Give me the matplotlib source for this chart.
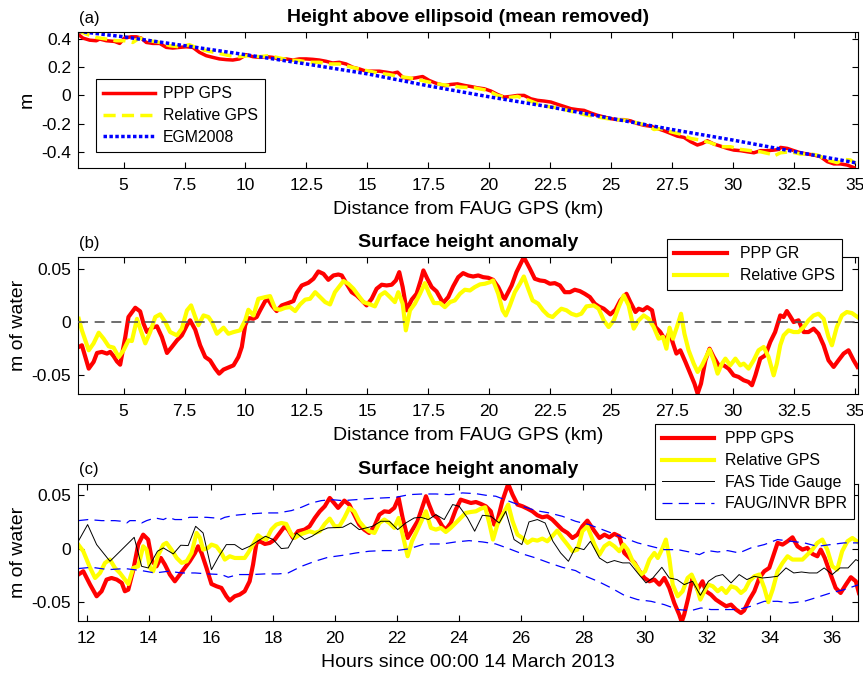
import matplotlib
matplotlib.use("Agg")
import matplotlib.pyplot as plt

plt.rcParams['font.family'] = ['Liberation Sans', 'DejaVu Sans']
plt.rcParams['axes.unicode_minus'] = False

# ---------------- Panel (a): height above ellipsoid (m) vs distance (km)
ppp_a = [(3.13,0.435),(3.33,0.407),(3.61,0.392),(3.88,0.388),(4.02,0.400),(4.29,0.388),(4.63,0.383),(4.84,0.369),(5.04,0.407),(5.31,0.416),
         (5.52,0.416),(5.72,0.407),(5.93,0.376),(6.20,0.369),(6.48,0.369),(6.75,0.341),(7.02,0.336),(7.30,0.341),(7.57,0.345),(7.84,0.341),
         (8.11,0.306),(8.39,0.282),(8.66,0.270),(8.93,0.259),(9.21,0.254),(9.48,0.251),(9.75,0.259),(10.03,0.289),(10.30,0.275),(10.57,0.270),
         (10.85,0.275),(11.12,0.270),(11.39,0.259),(11.67,0.259),(11.94,0.251),(12.21,0.259),(12.49,0.259),(12.76,0.256),(13.03,0.251),(13.31,0.242),
         (13.58,0.230),(13.85,0.235),(14.13,0.223),(14.40,0.200),(14.67,0.188),(14.95,0.172),(15.22,0.172),(15.49,0.172),(15.77,0.165),(16.04,0.157),
         (16.24,0.165),(16.45,0.129),(16.72,0.118),(16.99,0.125),(17.27,0.134),(17.54,0.106),(17.81,0.087),(18.16,0.070),
         (18.43,0.078),(18.70,0.082),(18.98,0.071),(19.25,0.063),(19.52,0.054),(19.80,0.047),(20.07,0.031),(20.34,0.007),(20.61,-0.012),(20.89,-0.007),
         (21.16,0.000),(21.43,0.000),(21.71,-0.024),(21.98,-0.035),(22.25,-0.040),(22.53,-0.047),(22.80,-0.063),(23.07,-0.078),(23.35,-0.094),(23.62,-0.101),
         (23.89,-0.106),(24.17,-0.125),(24.44,-0.141),(24.71,-0.153),(24.99,-0.165),(25.26,-0.172),(25.53,-0.172),(25.81,-0.181),(26.08,-0.200),(26.35,-0.212),
         (26.63,-0.219),(26.90,-0.235),(27.17,-0.251),(27.45,-0.270),(27.72,-0.289),(27.99,-0.298),(28.27,-0.329),(28.54,-0.352),(28.74,-0.341),(28.95,-0.322),
         (29.22,-0.345),(29.49,-0.360),(29.77,-0.376),(30.04,-0.388),(30.31,-0.392),(30.59,-0.400),(30.86,-0.407),(31.13,-0.392),(31.41,-0.392),(31.68,-0.388),
         (31.89,-0.383),(31.95,-0.369),(32.23,-0.376),(32.50,-0.392),(32.77,-0.407),(33.05,-0.416),(33.32,-0.423),(33.59,-0.435),(33.87,-0.470),(34.14,-0.486),
         (34.41,-0.486),(34.69,-0.494),(34.96,-0.512)]

rel_a = [(3.13,0.458),(3.47,0.435),(3.88,0.411),(4.29,0.400),(4.70,0.388),(5.04,0.388),(5.38,0.376),(5.66,0.407),(6.07,0.388),(6.48,0.376),
         (6.89,0.353),(7.30,0.345),(7.70,0.360),(8.11,0.329),(8.52,0.313),(8.93,0.298),(9.34,0.282),(9.75,0.275),(10.16,0.282),(10.57,0.275),
         (10.98,0.282),(11.39,0.266),(11.80,0.251),(12.21,0.247),(12.62,0.235),(13.03,0.235),(13.44,0.223),(13.85,0.223),(14.26,0.204),(14.67,0.188),
         (15.08,0.172),(15.49,0.157),(15.90,0.148),(16.31,0.134),(16.72,0.125),(17.13,0.110),(17.54,0.094),(17.95,0.080),(18.29,0.071),(18.84,0.059),
         (19.39,0.054),(19.93,0.035),(20.34,0.000),(20.75,-0.016),(21.16,-0.007),(21.57,-0.031),(21.98,-0.059),(22.39,-0.078),(22.80,-0.087),(23.21,-0.106),
         (23.62,-0.125),(24.03,-0.141),(24.44,-0.153),(24.85,-0.165),(25.26,-0.172),(25.67,-0.176),(26.08,-0.195),(26.49,-0.212),(26.76,-0.242),(27.04,-0.235),
         (27.45,-0.258),(27.86,-0.275),(28.27,-0.306),(28.68,-0.317),(29.09,-0.336),(29.49,-0.364),(29.90,-0.364),(30.31,-0.383),(30.72,-0.392),(31.13,-0.400),
         (31.54,-0.416),(31.68,-0.430),(31.95,-0.407),(32.36,-0.400),(32.77,-0.416),(33.18,-0.416),(33.46,-0.423),(33.87,-0.458),(34.28,-0.477),(34.55,-0.454),
         (34.82,-0.458),(35.03,-0.482)]

egm_a = [(3.13,0.455),(5.0,0.416),(7.5,0.353),(10.0,0.289),(12.5,0.223),(15.0,0.153),(17.5,0.068),(20.0,-0.010),
         (22.5,-0.082),(25.0,-0.163),(27.5,-0.242),(30.0,-0.317),(32.5,-0.398),(35.1,-0.480)]

# ---------------- Panel (b): surface height anomaly (m of water) vs distance (km)
ppp_b = [(3.16,-0.0234),(3.29,-0.0218),(3.57,-0.0437),(3.77,-0.0374),(3.91,-0.029),(4.11,-0.028),(4.32,-0.0296),(4.45,-0.028),(4.59,-0.032),(4.73,-0.037),
         (4.86,-0.040),(5.07,-0.014),(5.2,0.0047),(5.48,0.0134),(5.68,0.010),(5.82,-0.0016),(5.96,-0.0094),(6.16,-0.0053),(6.37,-0.004),(6.57,-0.014),
         (6.78,-0.029),(6.98,-0.0234),(7.19,-0.0172),(7.39,-0.0125),(7.6,-0.003),(7.73,0.0016),(7.94,-0.0072),(8.14,-0.0218),(8.35,-0.0328),(8.55,-0.036),
         (8.76,-0.0437),(8.92,-0.0484),(9.1,-0.0446),(9.3,-0.0427),(9.51,-0.0406),(9.71,-0.0328),(9.85,-0.0234),(9.99,-0.003),(10.12,0.0037),(10.33,0.0031),
         (10.46,0.0047),(10.6,0.0109),(10.81,0.0197),(10.94,0.021),(11.08,0.0156),(11.28,0.0103),(11.49,0.0156),(11.76,0.0178),(11.97,0.0197),(12.1,0.0271),
         (12.31,0.0343),(12.58,0.0368),(12.79,0.0406),(12.99,0.0474),(13.2,0.0452),(13.4,0.0396),(13.61,0.0437),(13.81,0.0446),
         (13.95,0.0437),(14.15,0.0359),(14.36,0.028),(14.56,0.025),(14.77,0.0203),(14.97,0.0156),(15.18,0.0218),(15.38,0.0312),(15.59,0.035),(15.79,0.0343),
         (16.0,0.035),(16.17,0.039),(16.31,0.0468),(16.45,0.0328),(16.61,0.011),(16.82,0.021),(17.02,0.0265),(17.19,0.039),(17.3,0.0484),(17.46,0.0406),
         (17.64,0.0328),(17.84,0.0287),(18.11,0.0178),(18.32,0.0234),(18.52,0.0334),(18.73,0.0421),(18.93,0.0459),(19.14,0.0437),(19.34,0.0427),(19.55,0.0437),
         (19.75,0.0421),(19.96,0.0415),(20.16,0.0396),(20.37,0.0328),(20.57,0.0234),(20.64,0.0218),(20.92,0.0343),(21.12,0.0468),(21.42,0.0608),(21.67,0.050),
         (21.87,0.0406),(22.08,0.039),(22.28,0.0384),(22.49,0.0359),(22.69,0.0365),(22.9,0.0343),(23.1,0.028),(23.31,0.028),(23.51,0.0303),(23.72,0.029),
         (23.92,0.0265),(24.13,0.0234),(24.33,0.0172),
         (24.49,0.0147),(24.7,0.0125),(24.97,0.0072),(25.18,0.0115),(25.38,0.0203),(25.63,0.0265),(25.79,0.0187),(26.0,0.0094),(26.13,0.0125),(26.31,0.011),
         (26.48,0.014),(26.68,0.011),(26.82,-0.0047),(27.02,-0.0094),(27.23,-0.0172),(27.4,-0.0094),(27.54,-0.020),(27.68,-0.0296),(27.84,-0.0265),(28.05,-0.0374),
         (28.25,-0.0484),(28.42,-0.0577),(28.55,-0.0671),(28.69,-0.0577),(28.87,-0.0359),(29.04,-0.025),(29.21,-0.0328),(29.41,-0.0406),(29.62,-0.0406),(29.82,-0.0437),
         (30.03,-0.050),(30.23,-0.0515),(30.44,-0.0546),(30.64,-0.0562),(30.78,-0.0593),(30.92,-0.050),(31.12,-0.0343),(31.33,-0.0312),(31.53,-0.0187),(31.73,-0.0094),
         (31.94,0.0062),(32.08,0.0047),(32.21,0.0103),(32.35,0.0053),(32.49,0.0),(32.69,0.0016),(32.9,-0.0094),(33.1,-0.0094),(33.31,-0.0062),(33.51,-0.011),
         (33.72,-0.0218),(33.92,-0.0359),(34.13,-0.0421),(34.33,-0.0359),(34.54,-0.0296),(34.74,-0.0265),(34.95,-0.0359),(35.11,-0.0421)]

rel_b = [(3.16,0.003),(3.29,-0.0078),(3.57,-0.0265),(3.77,-0.020),(3.98,-0.010),(4.18,-0.0156),(4.39,-0.0228),(4.59,-0.024),(4.8,-0.0328),(5.0,-0.0265),
         (5.2,-0.0172),(5.34,-0.0178),(5.55,0.003),(5.68,-0.0062),(5.89,-0.020),(6.09,-0.0094),(6.3,0.0047),(6.5,0.0072),(6.71,0.0),(6.91,-0.0094),
         (7.19,-0.0125),(7.39,-0.0062),(7.6,0.0109),(7.77,0.0156),(7.94,0.0047),(8.07,-0.003),(8.28,0.0062),(8.48,0.0047),(8.62,0.0),(8.83,-0.011),
         (9.1,-0.0053),(9.3,-0.011),(9.51,-0.0094),(9.78,-0.0078),(9.99,0.0016),(10.12,0.0115),(10.33,0.0062),(10.53,0.0218),(10.81,0.0234),(11.01,0.0243),
         (11.22,0.0125),(11.42,0.0115),(11.63,0.0134),(11.83,0.014),(12.04,0.0103),(12.24,0.0165),(12.45,0.021),(12.65,0.0218),(12.86,0.028),(13.06,0.0234),
         (13.27,0.0187),(13.47,0.0165),
         (13.67,0.028),(14.02,0.0384),(14.22,0.0359),(14.43,0.0312),(14.63,0.025),(14.84,0.0187),(15.04,0.0172),(15.31,0.0147),(15.52,0.025),(15.72,0.028),
         (15.93,0.0234),(16.13,0.0187),(16.27,0.028),(16.45,0.0172),(16.58,-0.0078),(16.75,0.011),(16.95,0.0172),(17.16,0.0265),(17.36,0.0365),(17.54,0.0265),
         (17.73,0.0178),(17.98,0.0178),(18.18,0.014),(18.39,0.0187),(18.59,0.0203),(18.8,0.0265),(19.0,0.0303),(19.21,0.0296),(19.41,0.0328),(19.62,0.0353),
         (19.82,0.0359),(20.03,0.0374),(20.16,0.039),(20.37,0.0265),(20.55,0.011),(20.68,0.0062),(20.85,0.0156),(21.05,0.028),(21.26,0.0359),(21.42,0.0427),
         (21.6,0.0312),(21.78,0.0203),(22.01,0.0172),(22.21,0.011),(22.42,0.0062),(22.6,0.0047),(22.76,0.0084),(22.96,0.0125),(23.17,0.011),(23.37,0.0078),
         (23.58,0.0062),(23.78,0.0078),(23.99,0.0147),
         (24.29,0.0156),(24.49,0.0125),(24.7,0.0016),(24.9,-0.0047),(25.11,0.0016),(25.31,0.014),(25.52,0.025),(25.72,0.0156),(25.93,-0.0062),(26.13,0.0016),
         (26.34,0.0062),(26.54,0.0031),(26.75,-0.0047),(26.95,-0.0156),(27.13,-0.014),(27.27,-0.025),(27.4,-0.0053),(27.54,-0.0156),(27.7,-0.0047),(27.87,0.0078),
         (28.01,-0.011),(28.18,-0.0265),(28.39,-0.039),(28.55,-0.0468),(28.73,-0.0406),(28.91,-0.032),(29.04,-0.0259),(29.21,-0.0359),(29.37,-0.0484),(29.55,-0.039),
         (29.69,-0.0343),(29.89,-0.0406),(30.1,-0.0343),(30.3,-0.0406),(30.44,-0.039),(30.64,-0.0437),(30.85,-0.0359),(31.05,-0.0265),(31.26,-0.0234),(31.46,-0.0328),
         (31.67,-0.050),(31.8,-0.039),(31.94,-0.0218),(32.08,-0.0125),(32.28,-0.0078),(32.49,-0.0094),(32.69,-0.0094),(32.9,-0.0047),(33.1,0.0016),(33.31,0.0062),
         (33.51,0.0078),(33.72,0.003),(33.92,-0.014),(34.06,-0.0218),(34.26,-0.0047),(34.47,0.0062),(34.67,0.0094),(34.88,0.0084),(35.11,0.0047)]

# ---------------- Panel (c): surface height anomaly (m of water) vs hours since 00:00 14 March 2013
ppp_c = [(11.73,-0.0241),(11.89,-0.021),(12.11,-0.0335),(12.32,-0.0444),(12.48,-0.0397),(12.64,-0.0288),(12.80,-0.0273),(12.97,-0.0288),(13.13,-0.0319),(13.23,-0.0397),
         (13.34,-0.0382),(13.50,-0.020),(13.66,0.004),(13.82,0.0132),(13.98,0.0086),(14.11,-0.0117),(14.25,-0.0164),(14.39,-0.0086),(14.52,-0.0148),(14.68,-0.0241),
         (14.84,-0.0304),(15.00,-0.0241),(15.16,-0.0179),(15.32,-0.0117),(15.49,-0.0039),(15.59,0.0023),(15.70,-0.0039),(15.86,-0.0179),(16.02,-0.0329),(16.18,-0.035),
         (16.34,-0.0366),(16.50,-0.0444),(16.61,-0.0484),(16.77,-0.0444),(16.93,-0.0428),(17.09,-0.0397),(17.25,-0.0304),(17.36,-0.0148),(17.47,0.0055),(17.58,0.007),
         (17.74,0.0045),(17.90,0.0055),(18.06,0.0086),(18.22,0.0148),(18.38,0.021),(18.49,0.0179),(18.65,0.0101),(18.81,0.0164),(19.02,0.0179),(19.18,0.021),
         (19.35,0.0288),(19.51,0.035),(19.67,0.0397),(19.83,0.0475),(19.97,0.0428),(20.10,0.0382),
         (20.30,0.045),(20.46,0.0413),(20.62,0.0319),(20.78,0.0226),(20.94,0.0179),(21.10,0.0148),(21.27,0.021),(21.43,0.0319),(21.59,0.035),(21.75,0.0344),
         (21.91,0.0382),(22.05,0.0475),(22.18,0.0288),(22.34,0.0101),(22.50,0.0179),(22.66,0.0257),(22.82,0.0397),(22.93,0.0491),(23.03,0.0413),(23.16,0.0319),
         (23.30,0.0288),(23.46,0.021),(23.57,0.0179),(23.73,0.0241),(23.89,0.0366),(24.05,0.0459),(24.21,0.0444),(24.38,0.0428),(24.54,0.0437),(24.70,0.0419),
         (24.86,0.0397),(25.02,0.035),(25.13,0.0226),(25.23,0.0257),(25.39,0.0444),(25.58,0.0606),(25.72,0.0506),(25.88,0.0413),(26.04,0.0397),(26.20,0.0375),
         (26.36,0.035),(26.52,0.0313),(26.68,0.0294),(26.84,0.0304),(27.00,0.0273),(27.16,0.0226),(27.32,0.0179),(27.49,0.0148),(27.65,0.0101),(27.81,0.0132),
         (27.97,0.021),(28.13,0.0263),
         (28.36,0.0164),(28.52,0.0101),(28.68,0.0132),(28.84,0.0107),(29.00,0.0139),(29.16,0.0117),(29.32,-0.0039),(29.49,-0.0086),(29.65,-0.0132),(29.81,-0.021),
         (29.97,-0.0273),(30.13,-0.0304),(30.29,-0.0288),(30.45,-0.0335),(30.61,-0.0273),(30.77,-0.0366),(30.93,-0.0506),(31.09,-0.0615),(31.17,-0.0684),(31.25,-0.0615),
         (31.38,-0.046),(31.52,-0.0273),(31.68,-0.038),(31.84,-0.0304),(31.95,-0.0397),(32.11,-0.0428),(32.27,-0.0475),(32.43,-0.0506),(32.60,-0.0537),(32.76,-0.0522),
         (32.92,-0.0568),(33.08,-0.060),(33.18,-0.0577),(33.35,-0.0475),(33.51,-0.0397),(33.67,-0.0273),(33.83,-0.021),(33.99,-0.0179),(34.15,-0.0039),(34.26,0.0055),
         (34.42,0.0039),(34.58,0.007),(34.74,0.0107),(34.90,0.0023),(35.06,-0.0008),(35.22,0.0008),(35.38,-0.0048),(35.54,-0.007),(35.65,-0.0008),(35.78,-0.0086),
         (35.97,-0.0241),(36.13,-0.0366),(36.29,-0.0413),(36.46,-0.0335),(36.62,-0.0266),(36.78,-0.0304),(36.88,-0.0413)]

rel_c = [(11.73,0.0039),(11.89,-0.0023),(12.11,-0.0179),(12.27,-0.0273),(12.43,-0.0226),(12.59,-0.0132),(12.75,-0.0101),(12.91,-0.0179),(13.07,-0.0226),(13.23,-0.0288),
         (13.34,-0.0329),(13.50,-0.0179),(13.66,-0.0164),(13.82,0.0023),(13.93,-0.0008),(14.04,-0.0179),(14.14,-0.021),(14.31,-0.0055),(14.47,0.0039),(14.57,0.0055),
         (14.73,-0.0008),(14.90,-0.0086),(15.06,-0.0132),(15.22,-0.0117),(15.38,-0.0039),(15.54,0.0148),(15.65,0.0101),(15.75,-0.0008),(15.91,0.0008),(16.02,0.0039),
         (16.18,0.0023),(16.34,-0.0039),(16.45,-0.0101),(16.61,-0.007),(16.77,-0.0086),(16.93,-0.0086),(17.09,-0.0086),(17.20,-0.0039),(17.36,0.0039),(17.52,0.0126),
         (17.63,0.0101),(17.79,0.0086),(17.95,0.0179),(18.11,0.0226),(18.27,0.0241),(18.43,0.0232),(18.57,0.0148),(18.70,0.0101),(18.86,0.0132),(19.02,0.0148),
         (19.18,0.0164),(19.35,0.0148),(19.51,0.0164),(19.67,0.0232),(19.83,0.0282),(19.99,0.021),
         (20.14,0.021),(20.30,0.0288),(20.46,0.0382),(20.62,0.035),(20.78,0.0257),(20.94,0.0201),(21.10,0.0164),(21.27,0.0148),(21.43,0.0241),(21.59,0.0273),
         (21.75,0.0241),(21.91,0.0195),(22.05,0.0288),(22.18,0.0132),(22.34,-0.007),(22.48,0.007),(22.63,0.0164),(22.80,0.0273),(22.93,0.035),(23.09,0.0195),
         (23.25,0.0179),(23.41,0.0195),(23.57,0.0157),(23.73,0.0195),(23.89,0.0241),(24.05,0.0288),(24.21,0.0335),(24.38,0.0344),(24.54,0.035),(24.70,0.0375),
         (24.84,0.0388),(24.97,0.0241),(25.09,0.0086),(25.23,0.0226),(25.39,0.0313),(25.58,0.0413),(25.72,0.0257),(25.88,0.0132),(26.04,0.0101),(26.20,0.0055),
         (26.36,0.0086),(26.52,0.0076),(26.68,0.0095),(26.84,0.007),(27.00,0.0117),(27.16,0.017),(27.32,0.0101),(27.49,0.0039),(27.65,-0.0023),(27.81,-0.0008),
         (27.97,0.0164),(28.13,0.021),
         (28.36,0.0039),(28.52,-0.0055),(28.68,0.0023),(28.84,0.0055),(29.00,0.0023),(29.16,-0.0023),(29.30,0.0039),(29.43,-0.0008),(29.59,-0.0117),(29.75,-0.0179),
         (29.86,-0.0241),(29.99,-0.021),(30.13,-0.0101),(30.29,-0.0039),(30.40,-0.0086),(30.53,-0.0008),(30.66,0.0086),(30.77,-0.0086),(30.88,-0.0335),(31.04,-0.0444),
         (31.20,-0.0397),(31.36,-0.0273),(31.49,-0.0241),(31.63,-0.0335),(31.77,-0.0475),(31.90,-0.0397),(32.03,-0.0335),(32.17,-0.035),(32.33,-0.0397),(32.46,-0.0366),
         (32.60,-0.0413),(32.76,-0.035),(32.92,-0.0366),(33.08,-0.0413),(33.21,-0.0382),(33.35,-0.0304),(33.51,-0.0257),(33.67,-0.0241),(33.83,-0.0366),(33.96,-0.0499),
         (34.10,-0.0382),(34.26,-0.021),(34.42,-0.0132),(34.58,-0.007),(34.74,-0.0101),(34.90,-0.0101),(35.06,-0.0101),(35.22,-0.0055),(35.38,-0.0008),(35.54,0.0055),
         (35.70,0.0086),(35.86,-0.0008),(36.02,-0.0164),(36.18,-0.0195),(36.34,-0.0023),(36.51,0.007),(36.67,0.0101),(36.88,0.0055)]

tide_c = [(11.73,0.007),(12.03,0.0226),(12.32,0.0039),(12.75,-0.0117),(13.13,-0.0008),(13.53,0.0107),(13.77,-0.0164),(13.98,-0.0179),(14.28,-0.0023),(14.47,0.0008),
          (14.79,-0.0048),(15.03,0.0033),(15.27,0.003),(15.51,0.021),(15.75,0.0148),(16.02,-0.0195),(16.26,-0.007),(16.50,0.0039),(16.77,0.0039),(17.01,-0.0008),
          (17.25,0.0023),(17.50,0.007),(17.76,0.0117),(18.01,0.0086),(18.27,0.0002),(18.49,0.0008),(18.76,0.0148),(19.02,0.0086),(19.26,0.0117),(19.51,0.0164),
          (19.77,0.0195),(20.25,0.0201),(20.51,0.0241),(20.78,0.0179),(21.21,0.021),(21.48,0.0257),(21.75,0.0257),(22.02,0.0179),(22.28,0.0241),(22.55,0.0288),
          (22.77,0.0294),(23.01,0.0273),(23.25,0.0319),(23.52,0.0273),(23.79,0.0413),(24.00,0.0397),(24.27,0.0288),(24.50,0.0164),(24.75,0.0313),(25.02,0.0304),
          (25.29,0.0241),(25.50,0.035),(25.77,0.0086),(26.02,0.0039),(26.25,0.0251),(26.52,0.0273),(26.77,0.0241),(27.02,0.007),(27.27,-0.0039),(27.52,-0.0117),
          (27.75,0.0014),(28.02,-0.0008),(28.23,0.007),(28.52,-0.0086),(28.77,-0.0132),(29.00,-0.011),(29.27,-0.0132),(29.49,-0.0132),(29.75,-0.0226),(30.02,-0.0319),
          (30.24,-0.0273),(30.53,-0.0173),(30.77,-0.0273),(31.02,-0.0288),(31.25,-0.0335),(31.52,-0.0304),(31.77,-0.0435),(32.03,-0.0304),(32.27,-0.0257),(32.49,-0.0241),
          (32.76,-0.0319),(33.02,-0.0241),(33.27,-0.0288),(33.51,-0.0257),(33.77,-0.0273),(34.02,-0.0266),(34.26,-0.0257),(34.53,-0.0179),(34.78,-0.0226),(35.03,-0.0217),
          (35.28,-0.0226),(35.53,-0.0226),(35.76,-0.0179),(36.02,-0.0241),(36.27,-0.0179),(36.53,-0.0179),(36.78,-0.0101),(36.88,-0.0117)]

bpr_hi_c = [(11.73,0.0263),(12.05,0.0273),(12.48,0.0263),(12.91,0.0263),(13.13,0.0257),(13.29,0.0241),(13.39,0.0263),(13.61,0.0263),(13.77,0.0241),(13.93,0.0263),
            (14.20,0.0288),(14.47,0.0273),(14.63,0.0294),(14.84,0.0273),(15.06,0.0273),(15.32,0.0294),(15.59,0.0294),(15.86,0.0294),(16.13,0.0288),(16.29,0.0273),
            (16.45,0.0294),(16.77,0.0313),(17.20,0.0325),(17.74,0.0335),(18.17,0.0335),(18.60,0.0357),(18.92,0.0388),(19.24,0.0428),(19.56,0.045),(19.88,0.0459),
            (20.25,0.045),(20.68,0.0459),(21.10,0.0469),(21.53,0.0475),(21.96,0.0481),(22.39,0.0506),(22.82,0.0512),(23.25,0.0512),(23.68,0.0506),(24.11,0.0522),
            (24.54,0.0515),(24.86,0.050),(25.18,0.0491),(25.61,0.0444),(26.04,0.0397),(26.47,0.0357),(26.90,0.0335),(27.32,0.0304),(27.75,0.0257),(28.18,0.0226),
            (28.47,0.0195),(28.90,0.0148),(29.32,0.0101),(29.75,0.0055),(30.18,0.0023),(30.61,-0.0008),(31.04,-0.0008),(31.42,-0.003),(31.74,-0.0055),(32.01,-0.0017),
            (32.33,-0.003),(32.65,-0.0017),(33.02,-0.0039),(33.40,0.0008),(33.83,0.0039),(34.26,0.0086),(34.69,0.007),(35.12,0.0055),(35.54,0.0023),(35.97,0.0039),
            (36.40,0.0055),(36.88,0.0055)]

bpr_lo_c = [(11.73,-0.0185),(12.16,-0.0173),(12.70,-0.0195),(13.23,-0.0185),(13.77,-0.0204),(14.20,-0.0226),(14.63,-0.021),(15.06,-0.0226),(15.49,-0.0226),(15.91,-0.0235),
            (16.34,-0.0241),(16.56,-0.0266),(16.88,-0.0241),(17.31,-0.0241),(17.74,-0.0235),(18.17,-0.0235),(18.49,-0.0226),(18.92,-0.0164),(19.35,-0.0117),(19.77,-0.008),
            (20.25,-0.0061),(20.68,-0.0039),(21.10,-0.0023),(21.53,-0.0017),(21.96,-0.0017),(22.39,0.0),(22.82,0.0039),(23.03,0.0045),(23.46,0.0045),(23.89,0.0064),
            (24.32,0.0076),(24.75,0.0064),(25.18,0.0045),(25.61,0.0),(26.04,-0.0048),(26.47,-0.0086),(26.90,-0.0132),(27.32,-0.0173),(27.75,-0.0204),(28.08,-0.0257),
            (28.47,-0.0304),(28.90,-0.0366),(29.32,-0.0435),(29.75,-0.0475),(30.18,-0.0491),(30.61,-0.0522),(31.04,-0.0568),(31.47,-0.0578),(31.79,-0.0553),(32.11,-0.0568),
            (32.54,-0.0568),(32.97,-0.0568),(33.40,-0.0537),(33.83,-0.0491),(34.26,-0.0491),(34.69,-0.0506),(35.12,-0.0491),(35.54,-0.0453),(35.97,-0.0413),(36.40,-0.0382),
            (36.88,-0.0335)]

dist_ticks = [5, 7.5, 10, 12.5, 15, 17.5, 20, 22.5, 25, 27.5, 30, 32.5, 35]
dist_ticklabels = ['5', '7.5', '10', '12.5', '15', '17.5', '20', '22.5', '25', '27.5', '30', '32.5', '35']
hour_ticks = [12, 14, 16, 18, 20, 22, 24, 26, 28, 30, 32, 34, 36]
a_yticks = [-0.4, -0.2, 0, 0.2, 0.4]
a_yticklabels = ['-0.4', '-0.2', '0', '0.2', '0.4']
bc_yticks = [-0.05, 0, 0.05]
bc_yticklabels = ['-0.05', '0', '0.05']


def xy(pairs):
    xs, ys = zip(*pairs)
    return list(xs), list(ys)


W, H = 863, 677
fig = plt.figure(figsize=(W / 100, H / 100), dpi=100)


def add_axes(left, top, right, bottom):
    return fig.add_axes([left / W, 1 - bottom / H, (right - left) / W, (bottom - top) / H])


def style(ax):
    ax.tick_params(direction='in', top=True, right=True, length=4, width=0.8,
                   labelsize=12.5, colors='black')
    ax.tick_params(axis='x', pad=7)
    ax.tick_params(axis='y', pad=5)
    for s in ax.spines.values():
        s.set_linewidth(0.8)
        s.set_color('black')


def legend(ax, x, y, pad):
    leg = ax.legend(loc='upper left', bbox_to_anchor=(x / W, 1 - y / H), bbox_transform=fig.transFigure,
                    fontsize=11.4, handlelength=3.3, handletextpad=pad, labelspacing=0.42, borderpad=0.45,
                    borderaxespad=0, fancybox=False, framealpha=1, edgecolor='black')
    leg.get_frame().set_linewidth(0.8)
    return leg


TFS = 14
LFS = 14

# ---- panel a
ax1 = add_axes(78, 32, 858, 168)
x, y = xy(ppp_a)
ax1.plot(x, y, color='red', lw=2.5, label='PPP GPS')
x, y = xy(rel_a)
ax1.plot(x, y, color='yellow', lw=2.5, ls=(0, (3.5, 1.8)), label='Relative GPS')
x, y = xy(egm_a)
ax1.plot(x, y, color='blue', lw=2.5, ls=(0, (1, 0.7)), label='EGM2008')
ax1.set_xlim(3.13, 35.13)
ax1.set_ylim(-0.515, 0.45)
ax1.set_xticks(dist_ticks)
ax1.set_xticklabels(dist_ticklabels)
ax1.set_yticks(a_yticks)
ax1.set_yticklabels(a_yticklabels)
style(ax1)
ax1.set_xlabel('Distance from FAUG GPS (km)', fontsize=LFS, labelpad=6)
ax1.set_ylabel('m', fontsize=LFS, labelpad=4)
ax1.set_title('Height above ellipsoid (mean removed)', fontsize=TFS, fontweight='bold', pad=7)
legend(ax1, 95.7, 79.3, 0.5)

# ---- panel b
ax2 = add_axes(78, 257, 858, 394)
x, y = xy(ppp_b)
ax2.plot(x, y, color='red', lw=3, label='PPP GR')
x, y = xy(rel_b)
ax2.plot(x, y, color='yellow', lw=3, label='Relative GPS')
ax2.axhline(0, color='#555555', lw=1.2, ls=(0, (6, 4)), zorder=3)
ax2.set_xlim(3.13, 35.13)
ax2.set_ylim(-0.0675, 0.061)
ax2.set_xticks(dist_ticks)
ax2.set_xticklabels(dist_ticklabels)
ax2.set_yticks(bc_yticks)
ax2.set_yticklabels(bc_yticklabels)
style(ax2)
ax2.set_xlabel('Distance from FAUG GPS (km)', fontsize=LFS, labelpad=6)
ax2.set_ylabel('m of water', fontsize=LFS, labelpad=3)
ax2.set_title('Surface height anomaly', fontsize=TFS, fontweight='bold', pad=7)
legend(ax2, 667.3, 239.3, 0.85)

# ---- panel c
ax3 = add_axes(78, 483.5, 858, 621)
x, y = xy(ppp_c)
ax3.plot(x, y, color='red', lw=3, label='PPP GPS')
x, y = xy(rel_c)
ax3.plot(x, y, color='yellow', lw=3, label='Relative GPS')
x, y = xy(tide_c)
ax3.plot(x, y, color='black', lw=0.7, label='FAS Tide Gauge')
x, y = xy(bpr_hi_c)
ax3.plot(x, y, color='blue', lw=0.9, ls=(0, (8, 5)), label='FAUG/INVR BPR')
x, y = xy(bpr_lo_c)
ax3.plot(x, y, color='blue', lw=0.9, ls=(0, (8, 5)))
ax3.set_xlim(11.72, 36.85)
ax3.set_ylim(-0.0675, 0.061)
ax3.set_xticks(hour_ticks)
ax3.set_yticks(bc_yticks)
ax3.set_yticklabels(bc_yticklabels)
style(ax3)
ax3.set_xlabel('Hours since 00:00 14 March 2013', fontsize=LFS, labelpad=6)
ax3.set_ylabel('m of water', fontsize=LFS, labelpad=3)
ax3.set_title('Surface height anomaly', fontsize=TFS, fontweight='bold', pad=7)
legend(ax3, 655, 424.3, 0.65)

# panel labels
fig.text(79 / W, 1 - 23 / H, '(a)', fontsize=12, va='baseline', ha='left')
fig.text(79 / W, 1 - 248 / H, '(b)', fontsize=12, va='baseline', ha='left')
fig.text(79 / W, 1 - 474 / H, '(c)', fontsize=12, va='baseline', ha='left')

fig.savefig('out.png', dpi=100)
